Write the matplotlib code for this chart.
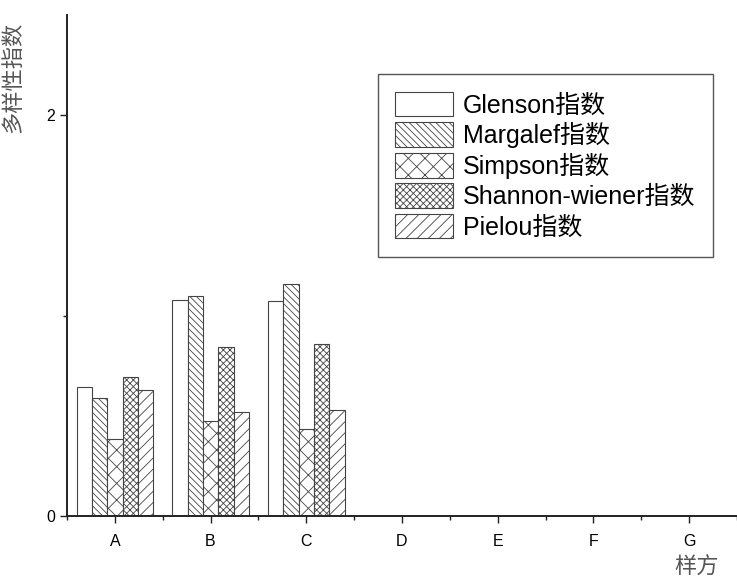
import numpy as np
import matplotlib
matplotlib.use('Agg')
import matplotlib.pyplot as plt
from matplotlib.ticker import MultipleLocator

plt.rcParams['font.family'] = ['Liberation Sans', 'Noto Sans CJK SC']
plt.rcParams['hatch.linewidth'] = 0.6

# ============================================
# 数据
# ============================================
sites = ['A', 'B', 'C', 'D', 'E', 'F', 'G']
series = ['Glenson指数', 'Margalef指数', 'Simpson指数', 'Shannon-wiener指数', 'Pielou指数']
glenson = [0.645, 1.08, 1.072, 0, 0, 0, 0]
margalef = [0.59, 1.097, 1.16, 0, 0, 0, 0]
simpson = [0.387, 0.475, 0.433, 0, 0, 0, 0]
shannon = [0.695, 0.845, 0.86, 0, 0, 0, 0]
pielou = [0.63, 0.52, 0.53, 0, 0, 0, 0]

values = [glenson, margalef, simpson, shannon, pielou]
hatches = ['', '\\\\\\\\\\', 'xx', 'xxxxx', '///']

fig = plt.figure(figsize=(7.37, 5.78), dpi=100)
ax = fig.add_axes([0.0909, 0.107, 0.909, 0.867])

x = np.arange(len(sites))
w = 0.16
for i, (vals, h, name) in enumerate(zip(values, hatches, series)):
    v = np.array(vals)
    mask = v > 0
    ax.bar(x[mask] + (i - 2) * w, v[mask], width=w, facecolor='white',
           edgecolor='#444444', linewidth=0.8, hatch=h, label=name)

ax.set_xlim(-0.5, 6.5)
ax.set_ylim(0, 2.5)
ax.set_xticks(x)
ax.set_xticklabels(sites, fontsize=11.5)
ax.xaxis.set_minor_locator(MultipleLocator(0.5))
ax.set_yticks([0, 2])
ax.set_yticklabels(['0', '2'], fontsize=11.5)
ax.yaxis.set_minor_locator(MultipleLocator(1))
ax.tick_params(axis='both', which='major', length=5, width=1, color='#222222')
ax.tick_params(axis='both', which='minor', length=3, width=1, color='#222222')
ax.tick_params(axis='x', which='major', pad=8)
ax.tick_params(axis='x', which='minor', labelbottom=False)

for s in ['top', 'right']:
    ax.spines[s].set_visible(False)
for s in ['left', 'bottom']:
    ax.spines[s].set_linewidth(1.4)
    ax.spines[s].set_color('#222222')

ax.set_ylabel('多样性指数', fontsize=16, color='#555555', family=['Noto Sans CJK SC'])
ax.yaxis.set_label_coords(-0.063, 0.876)
ax.set_xlabel('样方', fontsize=16, color='#555555', family=['Noto Sans CJK SC'])
ax.xaxis.set_label_coords(0.94, -0.08)

leg = ax.legend(loc='upper left', bbox_to_anchor=(0.464, 0.882), fontsize=18,
                handlelength=2.3, handleheight=1.15, labelspacing=0.18,
                handletextpad=0.4, borderpad=0.7, borderaxespad=0, fancybox=False,
                edgecolor='#555555', framealpha=1)
leg.get_frame().set_linewidth(1.0)

plt.savefig('out.png', dpi=100)
plt.close()
